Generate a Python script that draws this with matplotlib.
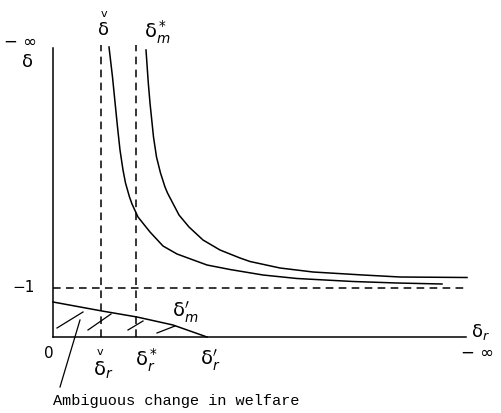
"""
Ambiguous welfare change diagram (delta vs delta_r)
"""
import matplotlib.pyplot as plt

# curva de delta-check (distancias desde el origen de los ejes)
curva1_x = [56, 59.5, 61.5, 64.5, 67, 70, 72.5, 76.5, 79, 85, 97, 110, 124,
            154, 177, 210, 244, 300, 344, 389]
curva1_y = [290, 260, 240, 210, 187, 167, 154, 140, 133, 120, 105, 91, 83,
            72, 67.5, 62, 58.5, 55.5, 54, 53]

# curva de delta*_m
curva2_x = [93, 95.3, 97, 100.5, 103.5, 107.5, 112, 114.5, 126, 136, 150,
            167, 187, 197, 227, 260, 310, 347, 414]
curva2_y = [287, 254, 234, 200, 180, 164, 150, 144, 122, 110, 97, 87, 79,
            75.5, 69, 65, 62, 60, 59.5]

# recta delta'_m
dm_x = [0, 49, 84, 120, 154]
dm_y = [35, 26, 20, 12, 0]

# posiciones de referencia
x_check = 48      # delta-check
x_star = 83       # delta*_r
y_menos1 = 49     # -1
x_fin = 413
y_tope = 289

# trazos del sombreado (x0, y0, x1, y1)
rayado = [(4, 9, 30, 25), (35, 7, 58, 23), (75, 7, 90, 16), (104, 4, 122, 11)]
flecha = (7, -50, 27, 17)

fig = plt.figure(figsize=(5.01, 4.13), dpi=100)
ax = fig.add_axes([0, 0, 1, 1])
ax.set_xlim(-53, 448)
ax.set_ylim(-76, 337)
ax.axis('off')

lw = 1.1
guion = (5, 3.5)

# ejes
ax.plot([0, 0], [0, y_tope], color='black', lw=lw)
ax.plot([0, x_fin], [0, 0], color='black', lw=lw)

# lineas punteadas
ax.plot([x_check, x_check], [0, 292], color='black', lw=lw, dashes=guion)
ax.plot([x_star, x_star], [0, 292], color='black', lw=lw, dashes=guion)
ax.plot([0, x_fin], [y_menos1, y_menos1], color='black', lw=lw, dashes=guion)

# curvas
ax.plot(curva1_x, curva1_y, color='black', lw=lw)
ax.plot(curva2_x, curva2_y, color='black', lw=lw)
ax.plot(dm_x, dm_y, color='black', lw=lw)

for x0, y0, x1, y1 in rayado:
    ax.plot([x0, x1], [y0, y1], color='black', lw=0.9)
ax.plot([flecha[0], flecha[2]], [flecha[1], flecha[3]], color='black', lw=0.9)

# textos
txt = dict(color='black', ha='center', va='center')
ax.text(-33, 295, '− ∞', fontsize=12, **txt)
ax.text(-25, 275, 'δ', fontsize=13, **txt)
ax.text(51, 323, 'v', fontsize=8, **txt)
ax.text(51, 307, 'δ', fontsize=13, **txt)
ax.text(104, 305, r'$\mathrm{\delta}_m^*$', fontsize=14, **txt)
ax.text(-29, y_menos1, '−1', fontsize=11, **txt)
ax.text(-4, -17, '0', fontsize=11, **txt)
ax.text(47, -15, 'v', fontsize=8, **txt)
ax.text(50, -33, r'$\mathrm{\delta}_r$', fontsize=14, **txt)
ax.text(94, -23, r'$\mathrm{\delta}_r^*$', fontsize=14, **txt)
ax.text(157, -23, r"$\mathrm{\delta}_r'$", fontsize=14, **txt)
ax.text(132, 25, r"$\mathrm{\delta}_m'$", fontsize=14, **txt)
ax.text(428, 5, r'$\mathrm{\delta}_r$', fontsize=13, **txt)
ax.text(425, -16, '− ∞', fontsize=12, **txt)
ax.text(123, -64, 'Ambiguous change in welfare', fontsize=11,
        family='Liberation Mono', **txt)

fig.savefig('out.png', dpi=100)
